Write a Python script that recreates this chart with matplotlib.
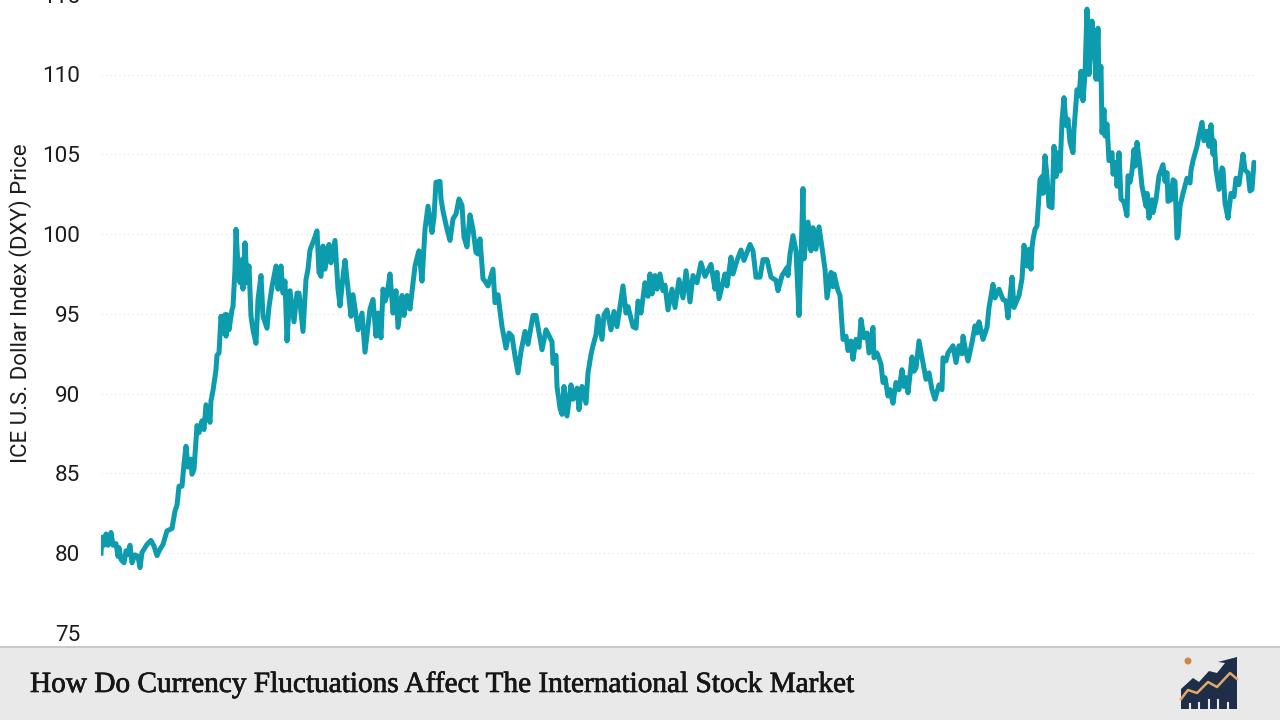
import matplotlib
matplotlib.use("Agg")
import matplotlib.pyplot as plt
import matplotlib.patheffects as pe
from matplotlib.patches import Polygon, Rectangle, Circle

TITLE = "How Do Currency Fluctuations Affect The International Stock Market"
YLABEL = "ICE U.S. Dollar Index (DXY) Price"
Y_TICKS = [75, 80, 85, 90, 95, 100, 105, 110, 115]

# x is an observation counter along the unlabelled time axis
session = [0,1,3,5,7,10,12,15,17,18,20,23,25,27,29,31,34,37,39,41,46,50,53,56,59,62,66,71,74,76,78,81,83,85,87,90,91,93,96,98,101,103,105,109,110,112,
115,116,118,120,122,124,125,126,128,131,132,134,135,137,139,141,142,144,146,148,150,152,155,157,160,162,166,168,171,175,177,180,182,184,186,189,193,196,198,202,205,207,209,213,216,218,220,222,224,228,230,234,237,239,242,244,246,250,252,257,261,264,
269,272,275,277,280,282,284,286,289,292,295,297,301,303,306,309,314,317,318,321,324,327,
331,333,335,339,340,342,346,349,352,355,358,361,363,366,369,372,375,377,379,382,384,387,392,394,397,401,405,408,411,414,417,420,424,427,432,435,441,445,451,452,455,456,459,461,463,466,470,472,476,478,481,485,487,490,492,495,497,501,503,506,
510,513,516,519,522,525,527,532,535,537,540,544,547,549,551,554,556,559,562,564,567,571,574,578,582,585,589,592,596,600,604,610,614,616,618,624,626,630,632,636,640,643,649,652,655,659,662,666,670,675,677,681,686,687,689,692,695,698,700,702,703,707,710,712,715,718,721,
724,726,730,732,733,737,739,742,745,747,750,752,755,758,760,763,766,768,772,773,776,780,782,784,787,789,792,795,798,801,803,805,807,811,813,815,818,822,825,828,831,834,838,841,842,845,847,852,855,858,861,862,864,867,871,874,876,878,882,886,888,892,894,898,902,905,907,911,913,918,921,923,926,928,930,
931,932,934,936,939,941,942,944,946,948,951,953,955,957,959,961,963,965,967,969,972,973,976,978,980,982,984,986,988,991,993,995,997,998,1000,1001,1003,1004,1006,1008,1011,1012,1015,1016,1018,1020,1023,1026,1027,1029,1031,1033,1034,1036,1039,1041,1045,1046,1048,1051,1052,1055,1058,1062,1064,1066,1067,1070,1072,1074,1076,1077,1079,1082,1086,1089,1090,1092,1096,1098,1101,1103,1106,1108,1110,1112,1113,1115,1118,1121,1122,1124,1127,1130,1133,1135,1138,1142,1144,1147,1149,1151,1153,1155]

dxy = [80.0,81.0,80.5,81.2,80.5,81.3,80.5,80.6,79.8,80.35,79.6,79.4,80.15,79.9,80.5,79.4,79.9,79.8,79.1,80.05,80.55,80.8,80.45,79.85,80.25,80.55,81.4,81.55,82.65,83.0,84.2,84.2,85.6,86.7,85.4,85.9,84.95,85.25,88.0,87.55,88.3,87.75,89.3,88.2,89.55,90.2,
91.5,92.4,92.55,94.85,93.8,94.95,93.6,94.95,94.0,95.25,95.45,97.8,100.3,98.0,96.95,98.4,96.55,99.45,96.95,98.0,94.85,94.0,93.15,95.9,97.4,94.85,94.1,95.45,96.7,98.0,96.55,98.0,96.3,97.05,93.3,96.45,94.5,96.3,96.3,93.9,97.15,97.8,99.0,99.65,100.2,97.6,97.35,99.25,97.8,99.35,98.2,99.6,96.55,95.5,97.35,98.35,97.15,94.85,96.2,94.0,95.05,92.6,
95.3,95.9,93.6,95.05,93.5,96.55,95.8,96.2,97.5,95.05,96.45,94.15,96.15,94.9,96.15,95.3,98.0,98.75,98.95,97.05,100.3,101.75,
100.1,101.05,103.25,103.3,102.2,101.45,100.3,99.6,100.95,101.25,102.2,101.8,99.8,99.2,101.2,100.3,98.85,98.75,99.7,97.2,97.05,96.75,97.8,95.7,96.2,94.2,92.85,93.8,93.6,92.35,91.3,92.65,93.9,93.1,94.9,94.9,92.75,94.0,93.25,91.9,92.4,90.45,89.1,88.7,90.45,88.6,90.55,89.65,90.35,89.0,90.45,89.4,91.3,92.45,93.0,93.7,94.85,93.4,94.95,95.25,
94.0,95.15,94.2,95.45,96.75,95.05,95.45,94.2,94.1,95.8,95.05,96.95,96.1,97.5,96.25,97.4,96.55,97.5,96.45,96.8,95.25,96.55,95.4,97.15,96.0,97.7,95.75,97.4,96.95,98.2,97.35,98.1,96.55,97.6,95.95,97.5,96.75,98.55,97.5,98.35,99.0,98.35,99.35,98.95,97.3,97.3,98.4,98.4,97.3,97.1,96.45,97.4,97.9,97.4,98.75,99.9,98.95,94.9,98.45,102.85,98.45,100.75,98.95,100.4,99.05,100.45,99.15,
97.8,96.0,97.6,96.7,97.5,96.45,96.15,93.4,93.6,92.7,93.3,92.15,93.4,92.9,94.65,93.5,93.8,92.55,94.15,92.25,92.55,91.85,90.7,91.0,89.85,90.25,89.4,90.7,90.25,91.5,90.45,91.0,90.05,92.3,91.4,91.6,93.3,91.95,90.9,91.3,90.25,89.65,90.55,90.25,92.25,92.05,92.55,93.0,91.95,93.0,92.5,93.6,92.9,92.05,93.2,94.25,93.8,94.5,93.4,94.15,95.4,96.85,96.0,96.55,95.9,95.8,94.75,97.3,95.4,96.15,97.2,99.3,98.0,99.05,97.8,
99.15,99.65,100.3,100.5,103.4,103.6,102.55,104.9,103.6,101.75,101.65,105.5,103.6,105.1,103.95,107.1,108.55,106.8,107.2,105.75,105.1,106.55,109.05,108.65,110.2,108.35,110.0,114.1,110.0,113.35,112.0,109.7,112.9,109.7,110.5,106.35,107.8,106.15,106.9,104.6,105.1,103.75,104.5,103.0,105.1,102.2,102.0,101.15,103.65,103.25,103.95,105.3,104.25,105.75,104.25,103.0,101.75,102.55,101.0,102.15,101.35,102.15,103.65,104.35,103.3,103.85,102.05,102.15,103.4,103.3,99.75,99.85,101.75,102.55,103.5,103.2,104.0,104.6,105.5,106.15,107.0,105.85,106.45,105.5,106.85,105.0,105.85,104.05,102.8,104.15,104.05,101.95,101.0,102.55,102.35,103.5,103.1,105.0,104.0,103.85,102.7,102.8,104.5,104.25]

n = min(len(session), len(dxy))

W, H = 1280, 720
fig = plt.figure(figsize=(W/100, H/100), dpi=100, facecolor="white")

px_per_unit = (633 - 74.5) / 35
y_lo, y_hi = 75, 116
ax = fig.add_axes([101/W, (H-633)/H, 1155/W, (y_hi-y_lo)*px_per_unit/H])
ax.set_xlim(0, 1155)
ax.set_ylim(y_lo, y_hi)
ax.plot(session[:n], dxy[:n], color="#0c9cae", lw=3.6, solid_joinstyle="round", zorder=3)
ax.set_yticks(Y_TICKS)
ax.set_xticks([])
ax.tick_params(axis="y", length=0, pad=15, labelsize=16.2, labelcolor="#1c1c1c")
for t in ax.get_yticklabels():
    t.set_family("Roboto")
ax.grid(axis="y", color="#ebebeb", lw=1, ls=(0, (1, 2.2)))
ax.set_axisbelow(True)
for s in ax.spines.values():
    s.set_visible(False)
fig.text(20.5/W, 1-303/H, YLABEL, rotation=90, ha="center", va="center",
         family="Roboto", fontsize=16, color="#1c1c1c")

# footer band and logo
ov = fig.add_axes([0, 0, 1, 1], facecolor="none", zorder=5)
ov.set_xlim(0, W); ov.set_ylim(H, 0); ov.axis("off")
ov.add_patch(Rectangle((0, 647), W, 73, fc="#e9e9e9", ec="none"))
ov.add_patch(Rectangle((0, 646), W, 2, fc="#c9c9c9", ec="none"))
ov.text(30, 684.5, TITLE, family="Liberation Serif", fontsize=21.1, color="#161616",
        ha="left", va="center",
        path_effects=[pe.withStroke(linewidth=0.5, foreground="#161616")])
ov.add_patch(Polygon([(1181,689),(1193,678),(1199,682),(1209,671),(1217,673),(1225,663),(1218,662),(1237,657),(1237,709),(1181,709)],
                     closed=True, fc="#1f2e48", ec="none"))
ov.plot([1181,1188,1197,1208,1217,1230,1237],[699,690,693,682,687,673,679], color="#e0aa66", lw=1.8)
for x, top in zip([1190,1199,1209,1218,1228],[704,703,700,700,703]):
    ov.plot([x,x],[top,709], color="#e9e9e9", lw=1.5)
ov.add_patch(Circle((1188,661), 3.5, fc="#c98a45", ec="none"))

fig.savefig("out.png", dpi=100)
